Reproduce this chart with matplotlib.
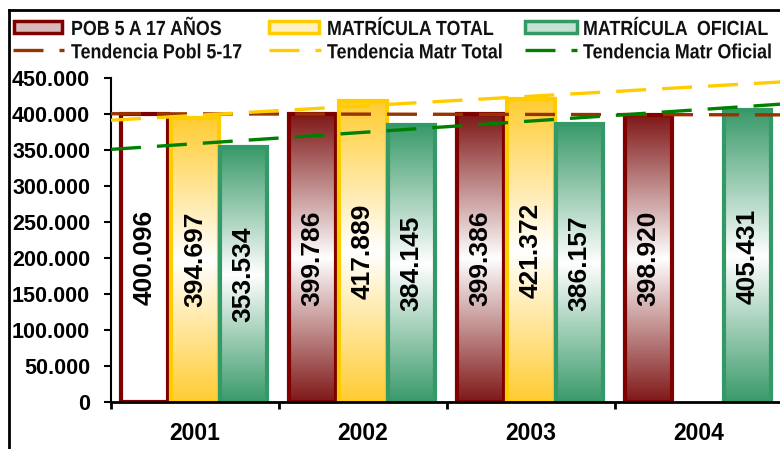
import numpy as np
import matplotlib
matplotlib.use('Agg')
import matplotlib.pyplot as plt
from matplotlib.patches import Rectangle, PathPatch
from matplotlib.lines import Line2D
from matplotlib.colors import to_rgb
from matplotlib.textpath import TextPath
from matplotlib.font_manager import FontProperties
from matplotlib.transforms import Affine2D
from matplotlib.ticker import FuncFormatter, FixedLocator

# datos
years = ['2001', '2002', '2003', '2004']
pob_5_17 = [400096, 399786, 399386, 398920]
matr_total = [394697, 417889, 421372, np.nan]
matr_oficial = [353534, 384145, 386157, 405431]

bar_labels = ['POB 5 A 17 AÑOS', 'MATRÍCULA TOTAL', 'MATRÍCULA  OFICIAL']
trend_labels = ['Tendencia Pobl 5-17', 'Tendencia Matr Total', 'Tendencia Matr Oficial']

plt.rcParams['lines.scale_dashes'] = False

W, H = 780, 449
fig = plt.figure(figsize=(W / 100, H / 100), dpi=100)


def fx(px):
    return px / W


def fy(py):
    return 1 - py / H


ax = fig.add_axes([fx(111), fy(401.7), 672 / W, (401.7 - 78) / H])

x = np.arange(len(years))
series = [pob_5_17, matr_total, matr_oficial]
fill_cols = ['#801818', '#FFCC33', '#3A9A6A']
edge_cols = ['#800000', '#FFCC00', '#339966']
trend_cols = ['#993300', '#FFCC00', '#008000']
offsets = [-0.30, 0.0, 0.29]
width = 0.28
dash = (30 * 0.72, 16 * 0.72)


def gradient(color, n=256):
    # color arriba y abajo, blanco en el centro
    t = np.linspace(0, 1, n)
    m = np.abs(2 * t - 1)[:, None]
    c = np.array(to_rgb(color))
    return (1 - m) * np.ones(3) + m * c


def value_label(b, v):
    ax.text(b.get_x() + b.get_width() / 2, v / 2, f'{int(v):,}'.replace(',', '.'),
            rotation=90, ha='center', va='center', fontsize=19,
            fontweight='bold', family='Liberation Sans', color='black', zorder=6)


for k, vals in enumerate(series):
    bars = ax.bar(x + offsets[k], vals, width, facecolor='none',
                  edgecolor=edge_cols[k], linewidth=3, zorder=2.1 + k * 0.2)
    grad = gradient(fill_cols[k])[:, None, :]
    for i, (b, v) in enumerate(zip(bars, vals)):
        if np.isnan(v):
            continue
        value_label(b, v)
        if k == 0 and i == 0:
            # la primera barra de poblacion aparece sin relleno
            b.set_facecolor('white')
            continue
        x0 = b.get_x()
        im = ax.imshow(grad, extent=[x0, x0 + b.get_width(), 0, v], origin='lower',
                       aspect='auto', interpolation='bilinear', zorder=2 + k * 0.2)
        im.set_clip_path(b)

# lineas de tendencia (ajuste lineal)
xs = np.array([-0.5, len(years) - 0.5])
for k, vals in enumerate(series):
    arr = np.array(vals, dtype=float)
    ok = ~np.isnan(arr)
    coef = np.polyfit(x[ok], arr[ok], 1)
    ax.plot(xs, np.polyval(coef, xs), color=trend_cols[k], lw=2.4,
            dashes=dash, zorder=5)

ax.set_xlim(-0.5, len(years) - 0.5)
ax.set_ylim(0, 450000)
ax.yaxis.set_major_locator(FixedLocator(np.arange(0, 450001, 50000)))
ax.yaxis.set_major_formatter(FuncFormatter(lambda v, p: f'{int(v):,}'.replace(',', '.')))
ax.xaxis.set_major_locator(FixedLocator(np.arange(len(years) + 1) - 0.5))
ax.xaxis.set_major_formatter(FuncFormatter(lambda v, p: ''))
ax.xaxis.set_minor_locator(FixedLocator(x))
ax.set_xticklabels(years, minor=True)
ax.tick_params(axis='x', which='major', length=5, width=2, direction='out')
ax.tick_params(axis='x', which='minor', length=0, pad=14.5)
ax.tick_params(axis='y', length=5, width=1.5, pad=10)
for lab in ax.get_yticklabels() + ax.get_xticklabels(minor=True):
    lab.set_family('Liberation Sans')
    lab.set_fontweight('bold')
for lab in ax.get_yticklabels():
    lab.set_fontsize(15.5)
for lab in ax.get_xticklabels(minor=True):
    lab.set_fontsize(16.5)
ax.spines['top'].set_visible(False)
ax.spines['right'].set_visible(False)
ax.spines['left'].set_linewidth(1.5)
ax.spines['bottom'].set_linewidth(2)
ax.patch.set_alpha(0)

# leyenda dibujada a mano; texto estrecho (tipo Arial Narrow) con TextPath
leg_prop = FontProperties(family='Liberation Sans', weight='bold')


def narrow_text(px, py, s, size=20.5, sx=0.87):
    path = TextPath((0, 0), s, size=size, prop=leg_prop)
    tr = Affine2D().scale(sx, 1).translate(px, H - py)
    fig.add_artist(PathPatch(path, transform=tr, facecolor='#111111', lw=0))


patch_x = [(13.5, 61.5), (268.5, 319), (525, 576.5)]
line_x = [(12.7, 64), (269, 320.7), (525, 577)]
text_x = [71, 327, 583]
for k in range(3):
    c = np.array(to_rgb(fill_cols[k]))
    light = 0.7 * np.ones(3) + 0.3 * c
    a, b = patch_x[k]
    fig.add_artist(Rectangle((fx(a), fy(32.5)), (b - a) / W, 11.5 / H,
                             transform=fig.transFigure, facecolor=light,
                             edgecolor=edge_cols[k], lw=2.5))
    narrow_text(text_x[k], 35, bar_labels[k])
    a, b = line_x[k]
    fig.add_artist(Line2D([fx(a), fx(b)], [fy(50), fy(50)], color=trend_cols[k],
                          lw=2.4, dashes=dash, transform=fig.transFigure))
    narrow_text(text_x[k], 58.3, trend_labels[k])

# borde del area del grafico
fig.add_artist(Line2D([fx(9), fx(9)], [0, fy(10)], color='black', lw=2,
                      transform=fig.transFigure))
fig.add_artist(Line2D([fx(9), 1], [fy(10), fy(10)], color='black', lw=2,
                      transform=fig.transFigure))

fig.savefig('out.png', dpi=100)
